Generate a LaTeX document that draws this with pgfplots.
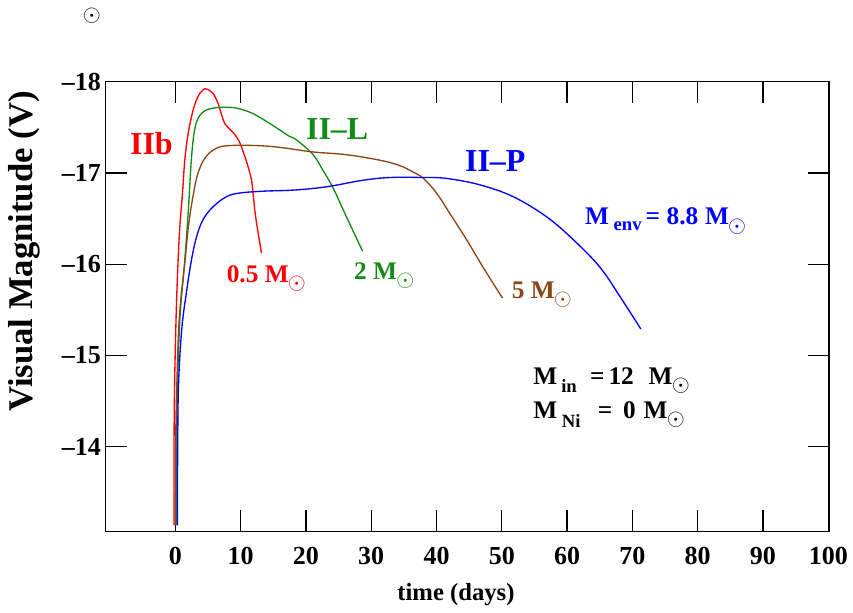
\documentclass[border=0pt]{standalone}
\usepackage{fontspec}
\setmainfont{Liberation Serif}
\usepackage{pgfplots}
\pgfplotsset{compat=1.18}
\definecolor{cgreen}{RGB}{20,140,20}
\definecolor{cbrown}{RGB}{140,70,20}
\newcommand\sun{\kern-0.03em\raisebox{-0.28em}{$\odot$}}
\newcommand\fs[1]{\fontsize{#1}{#1}\selectfont\bfseries}
\newcommand\sub[2]{\raisebox{#1}{\fs{14}#2}}
\begin{document}
\begin{tikzpicture}
\begin{axis}[
  scale only axis, width=542.6pt, height=337.5pt,
  xmin=-10.7, xmax=100.1, ymin=-18, ymax=-13.07, y dir=reverse,
  clip=false,
  axis line style={line width=1.1pt},
  tick style={black, line width=1pt},
  tick align=inside, major tick length=16pt,
  xtick={0,10,...,100},
  xticklabels={0,10,20,30,40,50,60,70,80,90,100},
  ytick={-18,-17,-16,-15,-14},
  yticklabels={–18,–17,–16,–15,–14},
  ticklabel style={font=\fs{19.5}},
  xticklabel style={yshift=-8pt},
  xlabel={time (days)},
  xlabel style={at={(axis description cs:0.4845,-0.154)}, anchor=base, font=\fs{18.5}},
  ylabel={Visual Magnitude (V)},
  ylabel style={at={(axis description cs:-0.1126,0.6227)}, anchor=center, font=\fs{26}},
]
% IIb, 0.5 Msun
\addplot[red, line width=1pt, smooth, tension=0.6] coordinates {
(-0.2,-13.14) (-0.2,-14.0) (-0.1,-14.73) (0.15,-15.5) (0.43,-16.05) (0.69,-16.41) (1.1,-16.78)
(1.45,-17.14) (1.96,-17.43) (2.73,-17.69) (3.49,-17.84) (4.26,-17.91) (4.78,-17.92)
(5.79,-17.87) (6.55,-17.76) (7.07,-17.64) (7.58,-17.54) (8.35,-17.48) (9.11,-17.42)
(9.88,-17.33) (10.64,-17.18) (11.3,-17.03) (11.67,-16.92) (11.91,-16.78) (12.17,-16.59)
(12.53,-16.41) (12.94,-16.23) (13.2,-16.12)
};
% II-L, 2 Msun
\addplot[cgreen, line width=1pt, smooth, tension=0.6] coordinates {
(0.18,-13.14) (0.22,-14.0) (0.3,-14.6) (0.7,-15.4) (1.45,-16.05) (2.0,-16.6) (2.45,-17.14)
(2.9,-17.45) (3.5,-17.6) (4.5,-17.68) (5.8,-17.71) (7.3,-17.72) (9.4,-17.71) (11.9,-17.65)
(14.5,-17.54) (16.0,-17.47) (17.5,-17.40) (18.6,-17.36) (21.1,-17.20) (22.6,-17.03)
(24.2,-16.83) (26.2,-16.52) (28.7,-16.14)
};
% 5 Msun
\addplot[cbrown, line width=1pt, smooth, tension=0.6] coordinates {
(0.0,-13.14) (0.05,-14.0) (0.2,-14.6) (0.6,-15.4) (1.5,-16.05) (2.0,-16.41) (2.6,-16.70)
(3.4,-16.98) (4.6,-17.17) (6.3,-17.27) (8.35,-17.30) (12.4,-17.30) (16.0,-17.28)
(21.1,-17.23) (26.2,-17.20) (31.3,-17.14) (34.4,-17.08) (36.4,-17.01) (38.0,-16.94)
(40.0,-16.78) (42.0,-16.56) (44.6,-16.27) (47.1,-15.97) (50.1,-15.63)
};
% II-P, 8.8 Msun
\addplot[blue, line width=1pt, smooth, tension=0.6] coordinates {
(0.33,-13.14) (0.36,-14.0) (0.5,-14.7) (1.0,-15.3) (1.76,-15.72) (2.48,-16.05) (3.25,-16.30)
(4.26,-16.49) (5.79,-16.63) (7.84,-16.74) (9.88,-16.78) (13.45,-16.80) (17.53,-16.81)
(21.1,-16.83) (24.16,-16.86) (28.75,-16.92) (32.85,-16.95) (37.95,-16.95) (41.53,-16.94)
(46.63,-16.87) (51.74,-16.74) (56.85,-16.52) (60.93,-16.27) (65.0,-15.97) (68.06,-15.65)
(71.29,-15.29)
};
\node[red, anchor=base west, inner sep=0, font=\fs{24}] at (axis cs:-6.97,-17.2) {IIb};
\node[cgreen, anchor=base west, inner sep=0, font=\fs{24}] at (axis cs:19.98,-17.369) {II–L};
\node[blue, anchor=base west, inner sep=0, font=\fs{24}] at (axis cs:44.33,-17.014) {II–P};
\node[red, anchor=base west, inner sep=0, font=\fs{19}] at (axis cs:7.84,-15.80) {0.5 M\sun};
\node[cgreen, anchor=base west, inner sep=0, font=\fs{19}] at (axis cs:27.34,-15.83) {2 M\sun};
\node[cbrown, anchor=base west, inner sep=0, font=\fs{19}] at (axis cs:51.49,-15.628) {5 M\sun};
\node[blue, anchor=base west, inner sep=0, font=\fs{19}] at (axis cs:62.71,-16.43)
  {M\hspace{3.5pt}\sub{-4.3pt}{env}\hspace{3pt}=\hspace{5pt}8.8\hspace{5pt}M\sun};
\node[black, anchor=base west, inner sep=0, font=\fs{19}] at (axis cs:54.79,-14.678)
  {M\hspace{3pt}\sub{-6pt}{in}\hspace{10pt}=\hspace{3pt}12\hspace{11pt}M\sun};
\node[black, anchor=base west, inner sep=0, font=\fs{19}] at (axis cs:54.79,-14.313)
  {M\hspace{3.5pt}\sub{-7.3pt}{Ni}\hspace{13pt}=\hspace{8pt}0\hspace{6pt}M\sun};
\node[inner sep=0, font=\fontsize{17}{17}\selectfont] at (axis description cs:-0.0187,1.146) {$\odot$};
\end{axis}
\pgfresetboundingbox
\useasboundingbox ([shift={(-79.1pt,-61pt)}]current axis.south west) rectangle ([shift={(560.65pt,398.75pt)}]current axis.south west);
\end{tikzpicture}
\end{document}
